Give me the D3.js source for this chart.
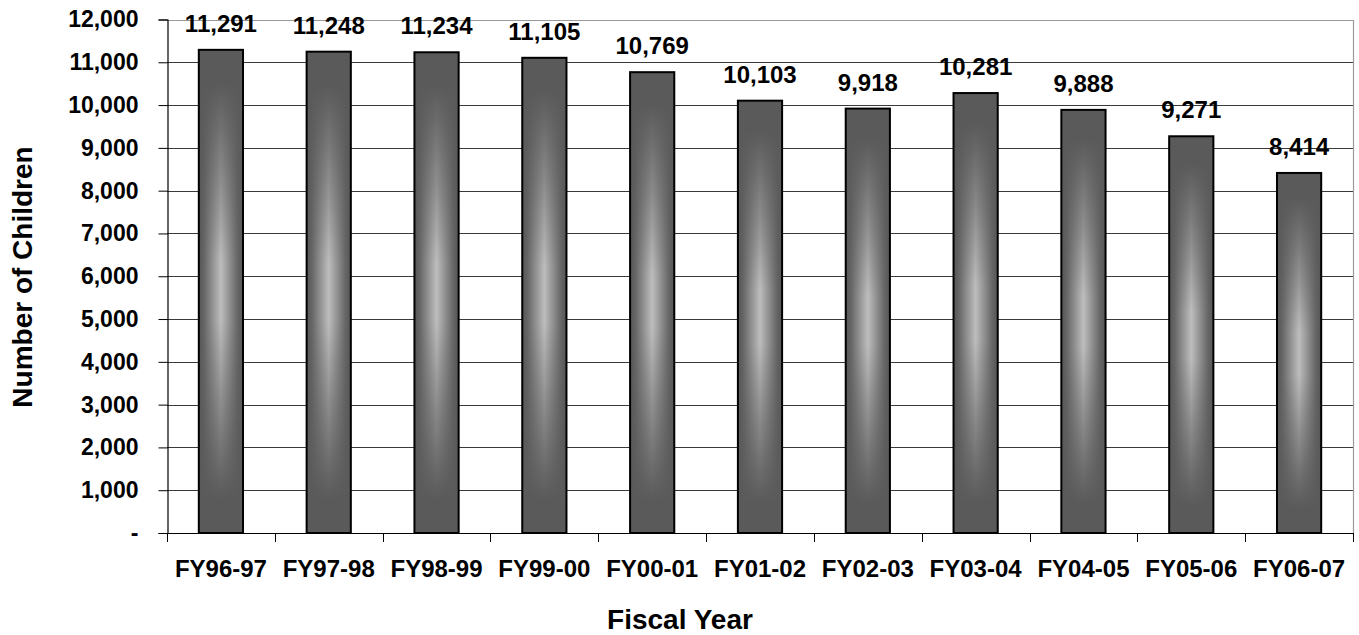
<!DOCTYPE html>
<html>
<head>
<meta charset="utf-8">
<script src="https://cdn.jsdelivr.net/npm/d3@7"></script>
<style>
  html, body { margin: 0; padding: 0; background: #fff; }
  svg { display: block; font-family: Arial, "Liberation Sans", sans-serif; font-weight: bold; }
</style>
</head>
<body>
<svg id="chart" width="1359" height="635"></svg>
<script>
// Children served per fiscal year
const categories = ["FY96-97", "FY97-98", "FY98-99", "FY99-00", "FY00-01", "FY01-02",
                    "FY02-03", "FY03-04", "FY04-05", "FY05-06", "FY06-07"];
const children = [11291, 11248, 11234, 11105, 10769, 10103, 9918, 10281, 9888, 9271, 8414];
const yTicks = [0, 1000, 2000, 3000, 4000, 5000, 6000, 7000, 8000, 9000, 10000, 11000, 12000];
const yTitle = "Number of Children";
const xTitle = "Fiscal Year";

const W = 1359, H = 635;
const plot = { left: 167, right: 1353, top: 19.5, bottom: 533 };

const svg = d3.select("#chart");
const defs = svg.append("defs");

// Horizontal shading: dark edges, light middle
const hg = defs.append("linearGradient").attr("id", "barH")
  .attr("x1", 0).attr("x2", 1).attr("y1", 0).attr("y2", 0);
[[0, "#555555"], [0.12, "#666666"], [0.5, "#bdbdbd"], [0.88, "#666666"], [1, "#555555"]].forEach(([o, c]) =>
  hg.append("stop").attr("offset", o).attr("stop-color", c));

// Vertical fade: darkens toward the top and bottom of each bar
const vg = defs.append("linearGradient").attr("id", "barV")
  .attr("x1", 0).attr("x2", 0).attr("y1", 0).attr("y2", 1);
[[0, 1], [0.07, 1], [0.28, 0.45], [0.44, 0], [0.56, 0], [0.72, 0.45], [0.93, 1], [1, 1]].forEach(([o, a]) =>
  vg.append("stop").attr("offset", o).attr("stop-color", "#5a5a5a").attr("stop-opacity", a));

const x = d3.scaleBand()
  .domain(categories)
  .range([plot.left, plot.right])
  .paddingInner(0.59)
  .paddingOuter(0.295);

const y = d3.scaleLinear()
  .domain([0, 12000])
  .range([plot.bottom, plot.top]);

// Gridlines
svg.append("g").selectAll("line")
  .data(yTicks.filter(t => t > 0 && t < 12000))
  .join("line")
  .attr("x1", plot.left).attr("x2", plot.right)
  .attr("y1", d => Math.round(y(d)) + 0.5).attr("y2", d => Math.round(y(d)) + 0.5)
  .attr("stroke", "#3a3a3a").attr("stroke-width", 1);

// Plot-area frame (top and right)
svg.append("path")
  .attr("d", `M${plot.left},${Math.round(y(12000)) + 0.5}H${plot.right + 0.5}V${plot.bottom}`)
  .attr("fill", "none").attr("stroke", "#9a9a9a").attr("stroke-width", 1.2);

// Y axis
const yAxis = d3.axisLeft(y)
  .tickValues(yTicks)
  .tickSize(9)
  .tickPadding(20)
  .tickFormat(d => d === 0 ? "-" : d3.format(",")(d));
const gy = svg.append("g").attr("transform", `translate(${plot.left + 0.5},0)`).call(yAxis);
gy.select(".domain").attr("stroke", "#000").attr("stroke-width", 1.2);
gy.selectAll(".tick line").attr("stroke", "#000");
gy.selectAll(".tick text")
  .attr("font-size", 23).attr("font-weight", "bold").attr("fill", "#000")
  .attr("font-family", "Arial, 'Liberation Sans', sans-serif");

// Bars
const bars = svg.append("g").selectAll("g")
  .data(categories.map((c, i) => ({ c, v: children[i] })))
  .join("g");
bars.append("rect")
  .attr("x", d => x(d.c)).attr("width", x.bandwidth())
  .attr("y", d => y(d.v)).attr("height", d => y(0) - y(d.v))
  .attr("fill", "url(#barH)");
bars.append("rect")
  .attr("x", d => x(d.c)).attr("width", x.bandwidth())
  .attr("y", d => y(d.v)).attr("height", d => y(0) - y(d.v))
  .attr("fill", "url(#barV)")
  .attr("stroke", "#000").attr("stroke-width", 2);

// Value labels
bars.append("text")
  .attr("x", d => x(d.c) + x.bandwidth() / 2)
  .attr("y", d => y(d.v) - 18)
  .attr("text-anchor", "middle")
  .attr("font-size", 24)
  .text(d => d3.format(",")(d.v));

// X axis: baseline with ticks at category boundaries
const gx = svg.append("g");
gx.append("line")
  .attr("x1", plot.left).attr("x2", plot.right + 0.5)
  .attr("y1", plot.bottom + 0.5).attr("y2", plot.bottom + 0.5)
  .attr("stroke", "#000").attr("stroke-width", 1.2);
gx.selectAll("line.tick")
  .data(d3.range(categories.length + 1))
  .join("line").attr("class", "tick")
  .attr("x1", i => Math.round(plot.left + i * x.step()) + 0.5)
  .attr("x2", i => Math.round(plot.left + i * x.step()) + 0.5)
  .attr("y1", plot.bottom).attr("y2", plot.bottom + 9)
  .attr("stroke", "#000");
gx.selectAll("text")
  .data(categories)
  .join("text")
  .attr("x", d => x(d) + x.bandwidth() / 2)
  .attr("y", 577)
  .attr("text-anchor", "middle")
  .attr("font-size", 24)
  .text(d => d);

// Axis titles
svg.append("text")
  .attr("x", 680).attr("y", 629)
  .attr("text-anchor", "middle")
  .attr("font-size", 28)
  .text(xTitle);
svg.append("text")
  .attr("transform", `translate(32,277) rotate(-90)`)
  .attr("text-anchor", "middle")
  .attr("font-size", 28)
  .text(yTitle);
</script>
</body>
</html>
